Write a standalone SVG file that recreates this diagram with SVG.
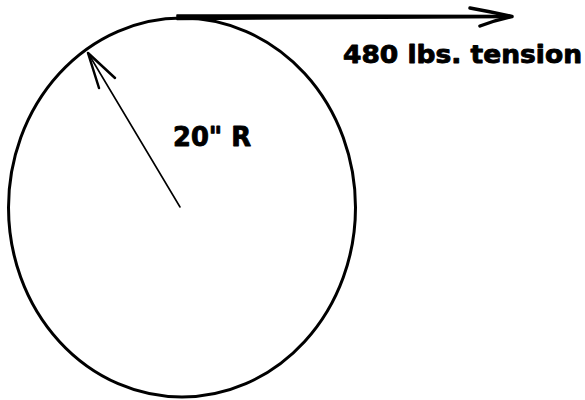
<svg xmlns="http://www.w3.org/2000/svg" width="585" height="400" viewBox="0 0 585 400">
<style>
.lbl{font-family:"DejaVu Sans","Liberation Sans",Arial,sans-serif;font-weight:bold;fill:#000;stroke:#000;stroke-width:0.9;stroke-linejoin:round}
.ln{fill:none;stroke:#000;stroke-linecap:round;stroke-linejoin:round}
</style>
<rect width="585" height="400" fill="#fff"/>
<g id="wheel">
<ellipse cx="182" cy="207.5" rx="173.5" ry="189.5" class="ln" stroke-width="3"/>
</g>
<g id="connectors">
<g id="tension">
<path d="M177 15 L510 15.5 L510 17.5 L177 19.5 Z" fill="#000" stroke="#000" stroke-width="1.5" stroke-linejoin="round"/>
<path d="M470 8 Q492 12 512 16.5 Q495 20 480 26" class="ln" stroke-width="3.5"/>
</g>
<g id="radius">
<line x1="180" y1="207" x2="88" y2="53" class="ln" stroke-width="1.6"/>
<path d="M99 88 L88 53 L115 78" class="ln" stroke-width="2.5"/>
</g>
</g>
<g id="labels">
<text class="lbl" x="343" y="63" font-size="25" textLength="239" lengthAdjust="spacingAndGlyphs">480 lbs. tension</text>
<text class="lbl" x="173" y="146" font-size="26" textLength="78" lengthAdjust="spacingAndGlyphs">20" R</text>
</g>
</svg>
